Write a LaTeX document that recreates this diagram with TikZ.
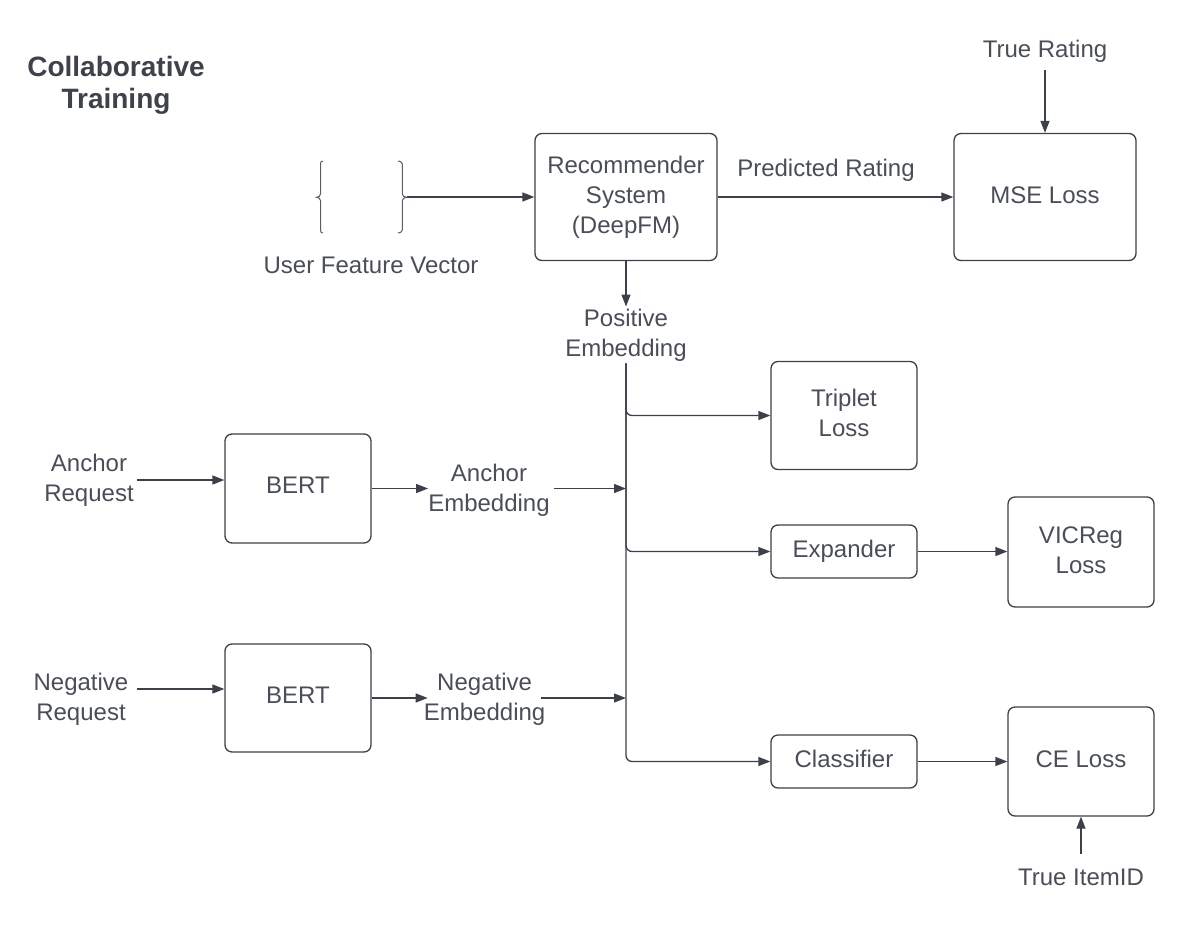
\documentclass[tikz,border=0pt]{standalone}
\usepackage{fontspec}
\setmainfont{Liberation Sans}
\usetikzlibrary{arrows.meta}
\definecolor{txt}{HTML}{4A4E57}
\definecolor{ttl}{HTML}{3E424B}
\definecolor{ln}{HTML}{3C4049}
\definecolor{brc}{HTML}{5A5E67}
\begin{document}
\begin{tikzpicture}[x=1pt,y=-1pt,
  box/.style={draw=ln,line width=1.3pt,rounded corners=7pt,text=txt,align=center,
    font=\fontsize{24}{30}\selectfont,inner sep=0pt},
  onebox/.style={box,text height=17.5pt,text depth=5pt},
  lbl/.style={text=txt,align=center,font=\fontsize{24}{30}\selectfont,inner sep=2pt},
  arr/.style={draw=ln,line width=1.3pt,-{Triangle[length=12pt,width=9pt]}},
  branch/.style={arr,rounded corners=6pt},
  bracepath/.style={draw=brc,line width=1pt}
  ]
\useasboundingbox[fill=white] (0,0) rectangle (1192,938);

% title
\node[text=ttl,align=center,font=\bfseries\fontsize{28}{32}\selectfont,inner sep=0pt] (title) at (116,85.5) {Collaborative\\Training};

% boxes
\node[box,minimum width=182pt,minimum height=127pt] (rec) at (626,197) {Recommender\\System\\(DeepFM)};
\node[onebox,minimum width=182pt,minimum height=127pt] (mse) at (1045,197) {MSE Loss};
\node[box,minimum width=146pt,minimum height=108pt] (trip) at (844,415.5) {Triplet\\Loss\rule[-6pt]{0pt}{0pt}};
\node[onebox,minimum width=146pt,minimum height=53pt] (exp) at (844,551.5) {Expander};
\node[box,minimum width=146pt,minimum height=110pt] (vic) at (1081,552) {VICReg\\Loss\rule[-3pt]{0pt}{0pt}};
\node[onebox,minimum width=146pt,minimum height=53pt] (cls) at (844,761.5) {Classifier};
\node[onebox,minimum width=146pt,minimum height=109pt] (ce) at (1081,761.5) {CE Loss};
\node[box,text height=17.5pt,text depth=7pt,minimum width=146pt,minimum height=109pt] (bert1) at (298,488.5) {BERT};
\node[box,text height=17.5pt,text depth=7pt,minimum width=146pt,minimum height=108pt] (bert2) at (298,698) {BERT};

% labels
\node[lbl] (ufvl) at (371,265.5) {User Feature Vector};
\node[lbl] (pr) at (826,170) {Predicted Rating};
\node[lbl] (tr) at (1045,51.4) {True Rating};
\node[lbl] (pe) at (626,334.9) {Positive\\Embedding};
\node[lbl] (ar) at (89,480) {Anchor\\Request};
\node[lbl] (ae) at (489,490) {Anchor\\Embedding};
\node[lbl] (nr) at (81,699) {Negative\\Request};
\node[lbl] (ne) at (484.6,699) {Negative\\Embedding};
\node[lbl] (tid) at (1081,877.5) {True ItemID};

% feature vector braces
\draw[bracepath] (323,161) .. controls (321.2,161) and (320.5,162) .. (320.5,164)
  -- (320.5,194) .. controls (320.5,196) and (318.5,197.3) .. (316.5,197.3)
  .. controls (318.5,197.3) and (320.5,198.6) .. (320.5,200.6)
  -- (320.5,230) .. controls (320.5,232) and (321.2,233) .. (323,233);
\draw[bracepath] (398,161) .. controls (400,161) and (402.3,162) .. (402.3,164)
  -- (402.3,194) .. controls (402.3,196) and (404.7,197.3) .. (406.7,197.3)
  .. controls (404.7,197.3) and (402.3,198.6) .. (402.3,200.6)
  -- (402.3,230) .. controls (402.3,232) and (400,233) .. (398,233);
\coordinate (ufv) at (406.7,197);

% helper coordinates
\coordinate (t0) at (pe.south);
\coordinate (trout) at ([yshift=-5pt]tr.south);
\coordinate (tidout) at ([yshift=13pt]tid.north);
\coordinate (arout) at ([xshift=1pt]ar.east);
\coordinate (aein) at ([xshift=2pt]ae.west);
\coordinate (aeout) at ([xshift=2pt]ae.east);
\coordinate (nrout) at ([xshift=6pt,yshift=10pt]nr.east);
\coordinate (nein) at ([xshift=6pt]ne.west);
\coordinate (neout) at ([xshift=-7pt]ne.east);

% connectors
\draw[arr] (ufv) -- (rec.west);
\draw[arr] (rec.east) -- (mse.west);
\draw[arr] (trout) -- (trout |- mse.north);
\draw[arr] (rec.south) -- (pe.north);
\draw[branch] (t0) |- (trip.west);
\draw[branch] (t0) |- (exp.west);
\draw[branch] (t0) |- (cls.west);
\draw[arr] (exp.east) -- (exp.east -| vic.west);
\draw[arr] (cls.east) -- (cls.east -| ce.west);
\draw[arr] (tidout) -- (ce.south);
\draw[arr] (arout) -- (arout -| bert1.west);
\draw[arr] (bert1.east) -- (aein |- bert1.east);
\draw[arr] (aeout |- bert1.east) -- (t0 |- bert1.east);
\draw[arr] (nrout) -- (nrout -| bert2.west);
\draw[arr] (bert2.east) -- (nein |- bert2.east);
\draw[arr] (neout |- bert2.east) -- (t0 |- bert2.east);
\end{tikzpicture}
\end{document}
